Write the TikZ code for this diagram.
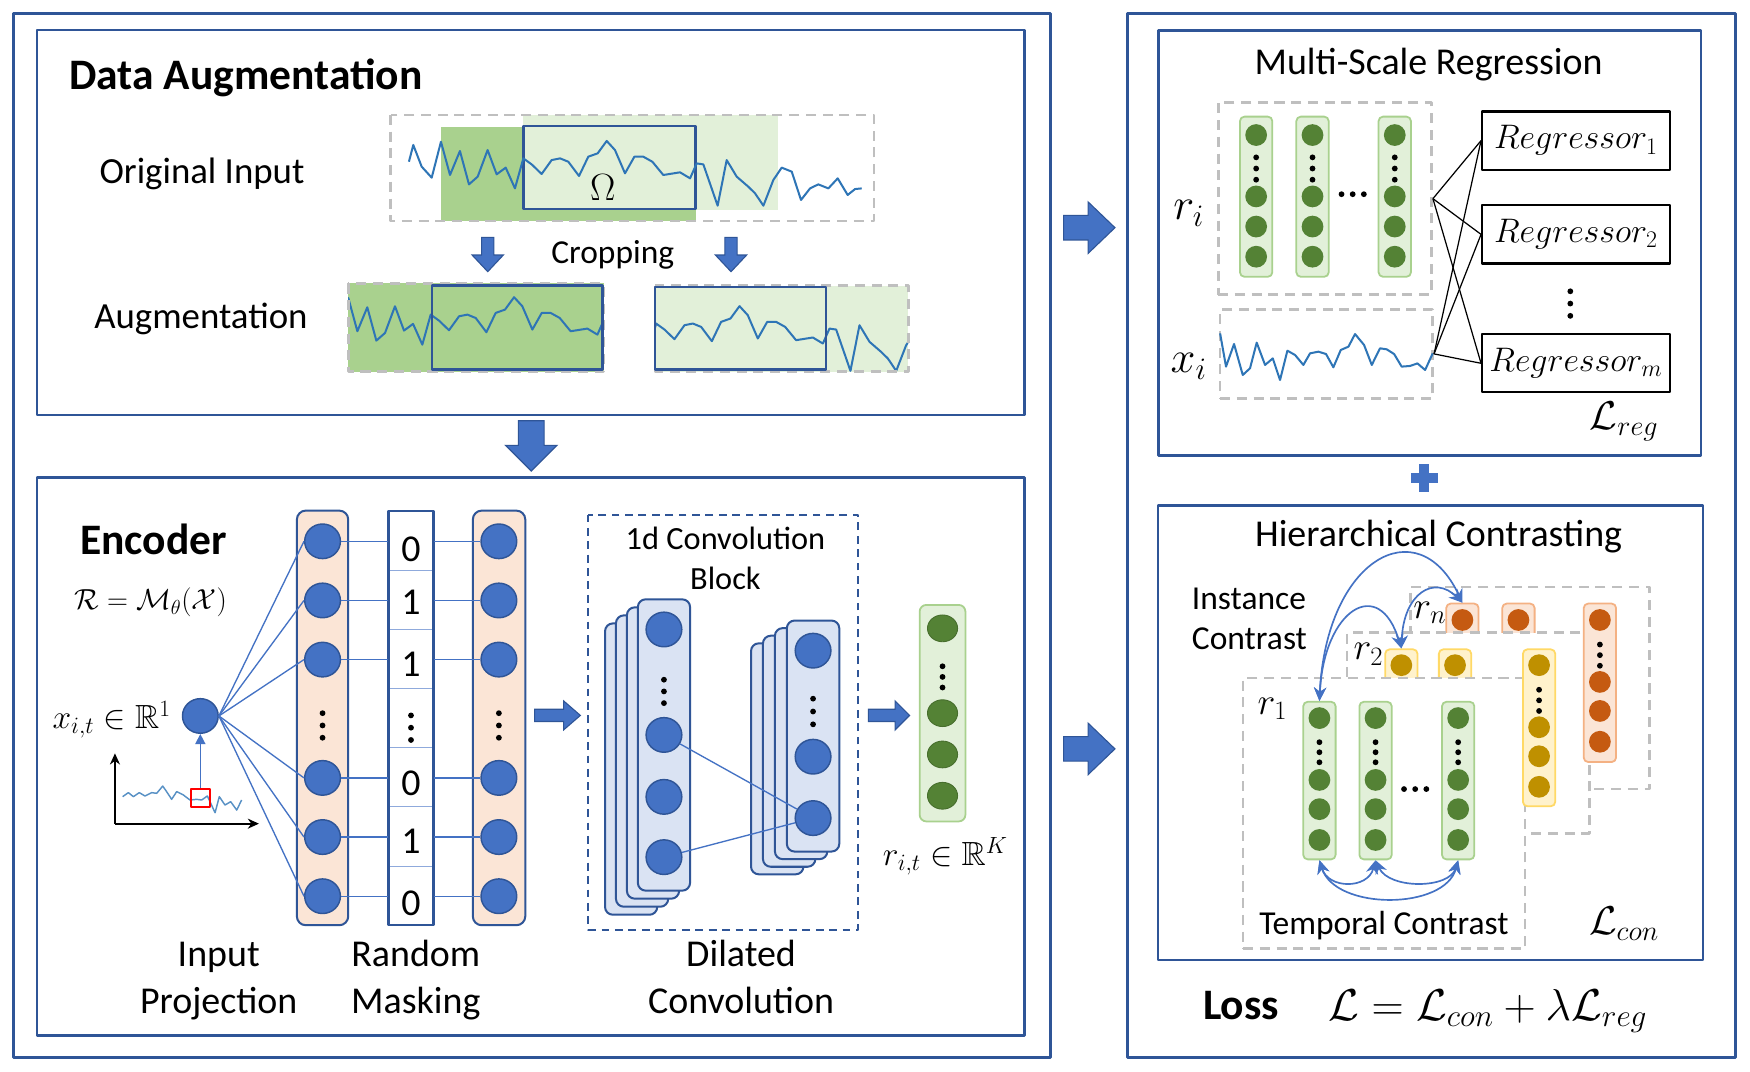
\RequirePackage{fix-cm}
\documentclass[tikz,border=0pt]{standalone}
\usepackage{amsmath,amssymb}
\usepackage{fontspec}
\setmainfont{Carlito}
\usetikzlibrary{shapes.geometric,arrows.meta,calc}

\definecolor{boxblue}{HTML}{2F5597}
\definecolor{nodeblue}{HTML}{4472C4}
\definecolor{nodeborder}{HTML}{2F5597}
\definecolor{peach}{HTML}{FBE5D6}
\definecolor{convfill}{HTML}{DAE3F3}
\definecolor{lgreen}{HTML}{E2F0D9}
\definecolor{mgreen}{HTML}{A9D18E}
\definecolor{dgreen}{HTML}{548235}
\definecolor{graydash}{HTML}{BFBFBF}
\definecolor{wavec}{HTML}{2E75B6}
\definecolor{orng}{HTML}{C55A11}
\definecolor{orngb}{HTML}{F4B183}
\definecolor{ylw}{HTML}{BF9000}
\definecolor{ylwf}{HTML}{FFF2CC}
\definecolor{ylwb}{HTML}{FFD966}

\newcommand\WaveMain{(366.4,144.9) -- (370.3,129.9) -- (377.8,149.3) -- (386.8,159.2) -- (395.1,127.0) -- (403.2,156.8) -- (412.1,135.3) -- (420.2,165.2) -- (428.0,158.3) -- (436.9,134.4) -- (445.0,156.2) -- (453.1,150.2) -- (461.4,168.8) -- (468.9,141.9) -- (476.4,147.3) -- (485.3,155.9) -- (494.3,143.4) -- (501.8,141.9) -- (509.2,144.9) -- (518.8,157.7) -- (527.1,140.4) -- (535.5,137.4) -- (543.6,126.3) -- (551.0,134.4) -- (560.0,155.3) -- (568.4,140.4) -- (576.4,140.4) -- (584.5,144.9) -- (594.3,156.8) -- (609.3,154.4) -- (618.3,159.8) -- (624.2,146.4) -- (630.2,147.3) -- (643.0,184.3) -- (651.1,143.4) -- (660.1,158.3) -- (670.5,167.3) -- (676.5,173.2) -- (684.0,184.3) -- (692.9,161.3) -- (700.4,150.2) -- (709.4,153.8) -- (717.7,179.2) -- (725.8,168.8) -- (733.2,165.2) -- (742.2,168.8) -- (750.6,159.8) -- (759.5,174.7) -- (766.1,169.4) -- (772.1,168.8)}
\newcommand\WaveX{(1093.2,298.7) -- (1098.5,328.5) -- (1105.7,308.2) -- (1113.5,336.0) -- (1120.0,330.0) -- (1126.0,307.0) -- (1133.5,327.0) -- (1140.4,321.1) -- (1146.9,340.5) -- (1153.5,314.2) -- (1160.4,318.1) -- (1167.8,327.0) -- (1173.8,316.6) -- (1181.3,315.1) -- (1188.1,317.2) -- (1194.7,329.1) -- (1201.3,313.6) -- (1208.2,310.6) -- (1214.1,299.3) -- (1222.2,309.1) -- (1229.1,327.0) -- (1236.5,312.1) -- (1242.5,313.0) -- (1249.1,317.2) -- (1255.9,328.5) -- (1263.4,327.9) -- (1270.0,325.6) -- (1276.9,331.5) -- (1283.7,316.6)}
\newcommand\WavePlot{(109.9,713.8) -- (115.0,710.2) -- (119.5,713.8) -- (124.8,710.2) -- (129.9,713.2) -- (135.9,710.2) -- (140.4,710.8) -- (145.8,704.3) -- (149.3,709.3) -- (153.8,716.2) -- (158.3,709.3) -- (164.3,712.3) -- (170.2,716.8) -- (176.2,716.2) -- (180.7,716.8) -- (185.8,713.2) -- (192.7,728.2) -- (196.5,713.8) -- (201.6,721.3) -- (206.7,718.3) -- (212.1,725.8) -- (216.5,716.8)}
\newcommand\VDotsAt[3]{\fill (#1,#2) circle (2.6) (#1,#2+#3) circle (2.6) (#1,#2+2*#3) circle (2.6);}
\newcommand\BArrR[6]{\filldraw[fill=nodeblue, draw=nodeborder, line width=1pt, line join=miter] (#1,#3-#5) -- (#4,#3-#5) -- (#4,#3-#6) -- (#2,#3) -- (#4,#3+#6) -- (#4,#3+#5) -- (#1,#3+#5) -- cycle;}
\newcommand\BArrD[6]{\filldraw[fill=nodeblue, draw=nodeborder, line width=1pt, line join=miter] (#3-#5,#1) -- (#3-#5,#4) -- (#3-#6,#4) -- (#3,#2) -- (#3+#6,#4) -- (#3+#5,#4) -- (#3+#5,#1) -- cycle;}

\tikzset{
 outerbox/.style={draw=boxblue, line width=2.6pt},
 innerbox/.style={draw=boxblue, line width=2.2pt},
 bluerect/.style={draw=boxblue, line width=2.2pt},
 gdash/.style={draw=graydash, line width=2.4pt, dash pattern=on 9pt off 6pt},
 gdashbox/.style={gdash, rectangle, inner sep=0pt},
 bluedash/.style={draw=boxblue, line width=1.8pt, dash pattern=on 7pt off 5pt},
 wave/.style={draw=wavec, line width=1.8pt, line join=round},
 wavesmall/.style={draw=wavec!80, line width=1.3pt, line join=round},
 link/.style={draw=nodeblue, line width=1.2pt},
 bnode/.style={ellipse, fill=nodeblue, draw=nodeborder, line width=1.3pt, minimum width=32pt, minimum height=31pt, inner sep=0pt},
 colpeach/.style={rectangle, rounded corners=8pt, fill=peach, draw=boxblue, line width=1.8pt, inner sep=0pt},
 cell/.style={rectangle, draw=nodeblue!60, line width=1pt, fill=white, minimum width=40.5pt, minimum height=53pt, inner sep=0pt},
 layer/.style={rectangle, rounded corners=7pt, fill=convfill, draw=boxblue, line width=1.8pt, inner sep=0pt},
 gcolumn/.style={rectangle, rounded corners=6pt, fill=lgreen, draw=mgreen, line width=1.6pt, inner sep=0pt},
 gnode/.style={ellipse, fill=dgreen, draw=dgreen!85!black, line width=0.8pt, minimum width=27pt, minimum height=24pt, inner sep=0pt},
 sgn/.style={circle, fill=dgreen, minimum size=19.5pt, inner sep=0pt},
 son/.style={circle, fill=orng, minimum size=19.5pt, inner sep=0pt},
 syn/.style={circle, fill=ylw, minimum size=19.5pt, inner sep=0pt},
 gscol/.style={rectangle, rounded corners=4pt, fill=lgreen, draw=mgreen, line width=1.6pt, inner sep=0pt, minimum width=29pt},
 ocol/.style={rectangle, rounded corners=4pt, fill=peach, draw=orngb, line width=1.6pt, inner sep=0pt, minimum width=29pt},
 ycol/.style={rectangle, rounded corners=4pt, fill=ylwf, draw=ylwb, line width=1.6pt, inner sep=0pt, minimum width=29pt},
 regbox/.style={rectangle, draw=black, line width=2pt, fill=white, minimum width=168pt, minimum height=52pt, inner sep=0pt, font={\fontsize{30.5}{34}\selectfont}},
 txt/.style={inner sep=0pt, outer sep=0pt},
 tBold/.style={txt, font={\fontsize{39}{46}\selectfont\bfseries}},
 tA/.style={txt, font={\fontsize{33}{40}\selectfont}},
 tB/.style={txt, font={\fontsize{34}{40}\selectfont}},
 tC/.style={txt, font={\fontsize{30}{36}\selectfont}},
 tConv/.style={txt, font={\fontsize{29}{36}\selectfont}},
 tTitle/.style={txt, font={\fontsize{34}{40}\selectfont}},
 tDig/.style={txt, font={\fontsize{34}{40}\selectfont}},
 mA/.style={txt, font={\fontsize{30}{36}\selectfont}},
 mR/.style={txt, font={\fontsize{34}{40}\selectfont}},
 mB/.style={txt, font={\fontsize{26}{32}\selectfont}},
 mC/.style={txt, font={\fontsize{36}{40}\selectfont}},
 mBig/.style={txt, font={\fontsize{40}{46}\selectfont}},
 bitip/.style={{Stealth[length=12pt,width=11pt]}-{Stealth[length=12pt,width=11pt]}},
}

\begin{document}
\begin{tikzpicture}[x=1pt,y=-1pt, line join=round]
\useasboundingbox (0,0) rectangle (1568,960);
\fill[white] (0,0) rectangle (1568,960);

% ---------- frames ----------
\draw[outerbox] (12,12.5) rectangle (941,947.5);
\draw[outerbox] (1010,12.5) rectangle (1555,947.5);
\draw[innerbox] (33,27) rectangle (918,372);
\draw[innerbox] (33,428) rectangle (918,928);
\draw[innerbox] (1038,27.5) rectangle (1524,408);
\draw[innerbox] (1037.5,453) rectangle (1526,860);

% ---------- Data Augmentation ----------
\node[tBold, anchor=base west] (tda) at (62,80) {Data Augmentation};
\node[tA, anchor=base] (toi) at (181,164) {Original Input};
\fill[mgreen] (395,113.5) rectangle (624,198);
\fill[lgreen] (468.3,103) rectangle (697.4,188.2);
\draw[bluerect] (468.9,113) rectangle (623.3,187.3);
\draw[wave] \WaveMain;
\draw[gdash] (350,103) rectangle (783,198);
\node[mR, anchor=base] (omega) at (540,180) {$\Omega$};

\BArrD{212.7}{243.4}{437}{228.5}{5.5}{14}
\BArrD{212.7}{243.4}{655}{228.5}{5.5}{14}
\node[tC, anchor=base] (tcrop) at (549,236) {Cropping};

\node[tA, anchor=base] (taug) at (180,294) {Augmentation};
\fill[mgreen] (312,254) rectangle (541,333);
\begin{scope}
\clip (312,254) rectangle (541,333);
\draw[wave, shift={(-83,140)}] \WaveMain;
\end{scope}
\draw[gdash] (312,254) rectangle (541,333);
\draw[bluerect] (387,256) rectangle (540,331);

\fill[lgreen] (587,256) rectangle (814,333);
\begin{scope}
\clip (587,256) rectangle (814,333);
\draw[wave, shift={(119,148)}] \WaveMain;
\end{scope}
\draw[gdash] (587,256) rectangle (814,333);
\draw[bluerect] (587,257) rectangle (740,331);

\BArrD{377}{422}{476}{399}{11.5}{23}

% ---------- Encoder ----------
\node[tBold, anchor=base west] (tenc) at (72,497) {Encoder};
\node[mB] (fenc) at (135,540) {$\mathcal{R}=\mathcal{M}_\theta(\mathcal{X})$};
\node[mA, anchor=base] (fx) at (100,653) {$x_{i,t}\in\mathbb{R}^1$};

\draw[black, line width=1.6pt, -{Stealth[length=10pt,width=9pt]}] (103,738) -- (103,675);
\draw[black, line width=1.6pt, -{Stealth[length=10pt,width=9pt]}] (103,738) -- (232,738);
\draw[wavesmall] \WavePlot;
\node[draw=red, line width=1.8pt, minimum width=17.4pt, minimum height=15.8pt, inner sep=0pt] (rsq) at (179.5,714.9) {};
\node[bnode] (inp) at (179.5,641.5) {};
\draw[link, -{Triangle[length=9pt,width=9pt]}] (rsq.north) -- (inp.south);

\node[colpeach, minimum width=46pt, minimum height=371.5pt] (c1) at (289,643.25) {};
\node[colpeach, minimum width=47pt, minimum height=371.5pt] (c3) at (447.15,643.25) {};
\foreach \k in {0,...,6} \node[cell] (m\k) at (368.25,484.5+53*\k) {};
\draw[boxblue, line width=2pt] (348,458) rectangle (388.5,829);
\foreach \i/\y in {1/485,2/538,3/591,4/697,5/750,6/803} {
  \node[bnode] (p\i) at (289,\y) {};
  \node[bnode] (q\i) at (447,\y) {};
}
\VDotsAt{289}{639}{11}
\VDotsAt{447}{639}{11}
\VDotsAt{368.25}{641}{11}
\foreach \d/\y in {0/492,1/540,1/595.5,0/702,1/754,0/809} \node[tDig] at (368.25,\y) {\d};
\foreach \i in {1,...,6} {
  \draw[link] (inp.east) -- (p\i.west);
  \draw[link] (p\i.east) -- (p\i -| m0.west);
  \draw[link] (p\i -| m0.east) -- (q\i.west);
}
\node[tB, anchor=base] (tin1) at (196,866) {Input};
\node[tB, anchor=base] (tin2) at (196,908) {Projection};
\node[tB, anchor=base] (trm1) at (372.6,866) {Random};
\node[tB, anchor=base] (trm2) at (372.6,908) {Masking};

\BArrR{479}{520}{641}{505}{5.5}{13}

% dilated conv block
\draw[bluedash] (527,461) rectangle (769,833);
\node[tConv, anchor=base] (tcb1) at (650,492) {1d Convolution};
\node[tConv, anchor=base] (tcb2) at (650,528) {Block};
\foreach \k in {3,2,1,0} \node[layer, minimum width=46.8pt, minimum height=261pt] (L\k) at (594.9-9.8*\k,667.5+7.2*\k) {};
\foreach \k in {3,2,1,0} \node[layer, minimum width=47pt, minimum height=207pt] (R\k) at (728.5-10.7*\k,659.5+6.8*\k) {};
\foreach \i/\y in {1/564,2/658.5,3/714,4/768} \node[bnode] (lc\i) at (594.9,\y) {};
\foreach \i/\y in {1/583,2/678,3/733} \node[bnode] (rc\i) at (728.5,\y) {};
\VDotsAt{594.9}{609}{10.5}
\VDotsAt{728.5}{626}{11.5}
\draw[link] (lc2) -- (rc3);
\draw[link] (lc4) -- (rc3);
\node[tB, anchor=base] (tdc1) at (664,866) {Dilated};
\node[tB, anchor=base] (tdc2) at (664,908) {Convolution};

\BArrR{778}{815}{641}{802}{5.5}{13}
\node[gcolumn, minimum width=41pt, minimum height=194pt] (gc) at (844.5,639) {};
\foreach \i/\y in {1/563,2/639,3/676,4/713} \node[gnode] (g\i) at (844.5,\y) {};
\VDotsAt{844.5}{597}{9.5}
\node[mA, anchor=base] (frk) at (847,775.6) {$r_{i,t}\in\mathbb{R}^K$};

% ---------- big arrows ----------
\BArrR{953}{999}{204}{975}{11}{23}
\BArrR{953}{999}{671}{975}{11}{23}

% ---------- Multi-Scale Regression ----------
\node[tTitle, anchor=base] (tmsr) at (1280,67) {Multi-Scale Regression};
\node[gdashbox, minimum width=191.2pt, minimum height=172pt] (rbox) at (1187.1,178) {};
\node[gdashbox, minimum width=190.5pt, minimum height=79.8pt] (xbox) at (1188.45,317.1) {};
\foreach \i/\x in {1/1125.5,2/1176,3/1249.7} {
  \node[gscol, minimum height=143.5pt] (mc\i) at (\x,176.25) {};
  \foreach \j/\y in {a/121,b/176,c/203,d/230} \node[sgn] (mc\i\j) at (\x,\y) {};
  \VDotsAt{\x}{141}{10}
}
\foreach \x in {1202,1212,1222} \fill (\x,174) circle (2.6);
\node[mBig, anchor=base] (lri) at (1065,197) {$r_i$};
\draw[wave] \WaveX;
\node[mBig, anchor=base] (lxi) at (1065,334) {$x_i$};
\node[regbox] (reg1) at (1412,126) {$Regressor_1$};
\node[regbox] (reg2) at (1412,210) {$Regressor_2$};
\node[regbox] (regm) at (1412,325.5) {$Regressor_m$};
\VDotsAt{1407}{261}{11}
\foreach \s in {rbox,xbox} \foreach \t in {reg1,reg2,regm} \draw[black, line width=1.1pt] (\s.east) -- (\t.west);
\node[mC, anchor=base] (lreg) at (1455,385) {$\mathcal{L}_{reg}$};

% plus
\fill[nodeblue] (1264,424) rectangle (1288,433);
\fill[nodeblue] (1271.5,416) rectangle (1280.5,441);

% ---------- Hierarchical Contrasting ----------
\node[tTitle, anchor=base] (thc) at (1289,490) {Hierarchical Contrasting};
\node[tC, anchor=base west] (tic1) at (1068,545.7) {Instance};
\node[tC, anchor=base west] (tic2) at (1068,581.5) {Contrast};

\node[gdashbox, fill=white, minimum width=214.4pt, minimum height=181pt] (bn) at (1370.8,616.5) {};
\node[ocol, minimum height=60pt, anchor=north] (n1) at (1310.3,540) {};
\node[ocol, minimum height=60pt, anchor=north] (n2) at (1360.5,540) {};
\node[son] at (1310.3,555.5) {};
\node[son] at (1360.5,555.5) {};

\node[gdashbox, fill=white, minimum width=217pt, minimum height=180pt] (b2) at (1315.5,657) {};
\node[ocol, minimum height=142pt, anchor=north] (n3) at (1433.5,540) {};
\foreach \y in {555.5,611,637,664.6} \node[son] at (1433.5,\y) {};
\VDotsAt{1433.5}{577.5}{9.5}
\node[mR, anchor=base] (lrn) at (1281,553.9) {$r_n$};

\node[ycol, minimum height=40pt, anchor=north] (y1) at (1255.6,581) {};
\node[ycol, minimum height=40pt, anchor=north] (y2) at (1303.7,581) {};
\node[syn] at (1255.6,596) {};
\node[syn] at (1303.7,596) {};

\node[gdashbox, fill=white, minimum width=252.7pt, minimum height=242.4pt] (b1) at (1240.15,728.8) {};
\node[ycol, minimum height=140.6pt, anchor=north] (y3) at (1379,581) {};
\foreach \y in {596,651.6,677.6,705} \node[syn] at (1379,\y) {};
\VDotsAt{1379}{618}{9.5}
\node[mR, anchor=base] (lr2) at (1226,591.3) {$r_2$};

\foreach \i/\x in {1/1182.2,2/1232.5,3/1306.5} {
  \node[gscol, minimum height=141.2pt] (a\i) at (\x,699.4) {};
  \foreach \y in {643.4,698.8,725,752.6} \node[sgn] at (\x,\y) {};
  \VDotsAt{\x}{665}{9}
}
\foreach \x in {1258,1268,1278} \fill (\x,707) circle (2.6);
\node[mR, anchor=base] (lr1) at (1140,640) {$r_1$};

% instance contrast arrows
\draw[link, line width=1.5pt, bitip] (a1.north) .. controls +(6,-127) and +(-40,-85) .. (n1.north);
\draw[link, line width=1.5pt, bitip] (a1.north) .. controls +(4,-82) and +(-20,-66) .. (y1.north);
\draw[link, line width=1.5pt, bitip] (y1.north) .. controls +(2,-50) and +(-25,-25) .. (n1.north);
% temporal contrast arrows
\draw[link, line width=1.5pt, bitip] (a1.south) .. controls +(8,26) and +(-7,26) .. (a2.south);
\draw[link, line width=1.5pt, bitip] (a2.south) .. controls +(12,26) and +(-8,26) .. (a3.south);
\draw[link, line width=1.5pt, bitip] (a1.south) .. controls +(14,45) and +(-12,45) .. (a3.south);

\node[tC, anchor=base] (ttc) at (1240,837) {Temporal Contrast};
\node[mC, anchor=base] (lcon) at (1455,837) {$\mathcal{L}_{con}$};

\node[tBold, anchor=base] (tloss) at (1112,913.8) {Loss};
\node[mBig, anchor=base] (floss) at (1333,914) {$\mathcal{L}=\mathcal{L}_{con}+\lambda\mathcal{L}_{reg}$};
\end{tikzpicture}
\end{document}
